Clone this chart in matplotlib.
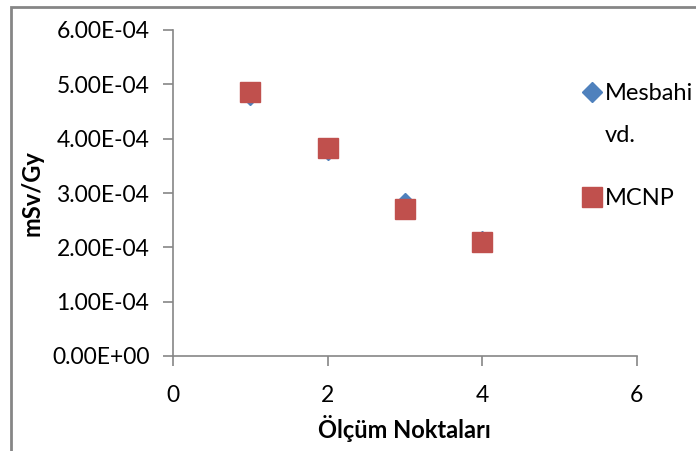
import numpy as np
import matplotlib.pyplot as plt
from matplotlib.patches import Rectangle

plt.rcParams['font.family'] = ['Lato', 'DejaVu Sans']

# Ölçüm noktaları ve doz dönüşüm katsayıları (mSv/Gy)
noktalar = [1, 2, 3, 4]
mesbahi = [4.81e-4, 3.80e-4, 2.82e-4, 2.11e-4]
mcnp = [4.85e-4, 3.82e-4, 2.71e-4, 2.09e-4]

x_ticks = [0, 2, 4, 6]
y_ticks = np.arange(0, 7e-4, 1e-4)

gri = '#868686'
W, H = 696, 451

fig = plt.figure(figsize=(6.96, 4.51), dpi=100)
ax = fig.add_axes([173 / W, 1 - 356 / H, (636.7 - 173) / W, (356 - 30) / H])

ax.plot(noktalar, mesbahi, 'D', color='#4F81BD', ms=10, label='Mesbahi')
ax.plot(noktalar, mcnp, 's', color='#C0504D', ms=15, label='MCNP')

ax.set_xlim(0, 6)
ax.set_ylim(0, 6e-4)
ax.set_xticks(x_ticks)
ax.set_yticks(y_ticks)
ax.set_yticklabels(['{:.2E}'.format(v) for v in y_ticks])

for s in ['top', 'right']:
    ax.spines[s].set_visible(False)
for s in ['left', 'bottom']:
    ax.spines[s].set_color(gri)
    ax.spines[s].set_linewidth(1.2)
ax.tick_params(colors=gri, labelcolor='black', labelsize=16.5, length=7, width=1.2)
ax.tick_params(axis='x', pad=14)
ax.tick_params(axis='y', pad=10)

ax.set_xlabel('Ölçüm Noktaları', fontsize=17, fontweight='bold', labelpad=6)
ax.set_ylabel('mSv/Gy', fontsize=17, fontweight='bold', labelpad=6)

leg = ax.legend(loc='upper left', bbox_to_anchor=(585 / W, 1 - 83 / H),
                bbox_transform=fig.transFigure, frameon=False, fontsize=17,
                handlelength=0.6, handletextpad=0.25, labelspacing=3.55,
                borderaxespad=0, borderpad=0)
# "Mesbahi vd." etiketinin ikinci satırı
fig.text(605 / W, 1 - 135 / H, 'vd.', fontsize=17, va='center', ha='left')

# çerçeve
fig.patches.append(Rectangle((11 / W, -0.1), 1.2, 1 - 7 / H + 0.1,
                             transform=fig.transFigure, fill=False,
                             edgecolor=gri, linewidth=2))

fig.savefig('out.png', dpi=100)
